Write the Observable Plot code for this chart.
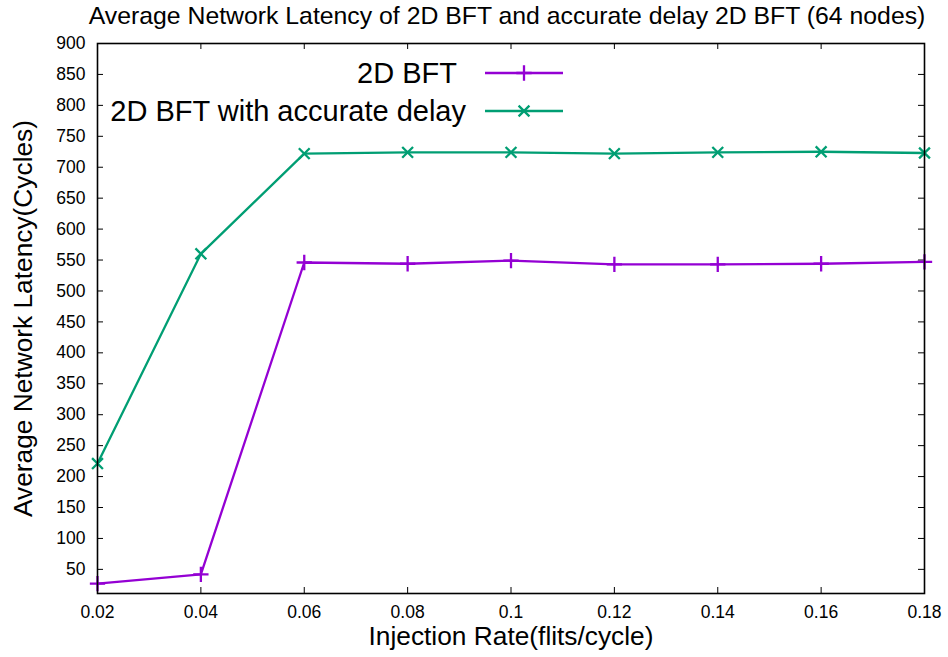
<!DOCTYPE html>
<html>
<head>
<meta charset="utf-8">
<script src="https://cdn.jsdelivr.net/npm/d3@7"></script>
<script src="https://cdn.jsdelivr.net/npm/@observablehq/plot@0.6"></script>
<style>
  html, body { margin: 0; padding: 0; background: white; }
  #chart { width: 948px; height: 657px; }
</style>
</head>
<body>
<div id="chart"></div>
<script>
const injectionRates = [0.02, 0.04, 0.06, 0.08, 0.10, 0.12, 0.14, 0.16, 0.18];
const bftLatency = [27, 42, 546, 544, 549, 543, 543, 544, 547];
const accurateLatency = [221, 560, 722, 724, 724, 722, 724, 725, 723];
const seriesNames = ["2D BFT", "2D BFT with accurate delay"];
const seriesColors = ["#9400d3", "#009e73"];
const seriesSymbols = ["plus", "times"];
const xTicks = [0.02, 0.04, 0.06, 0.08, 0.10, 0.12, 0.14, 0.16, 0.18];
const xTickLabels = ["0.02", "0.04", "0.06", "0.08", "0.1", "0.12", "0.14", "0.16", "0.18"];
const yTicks = [50, 100, 150, 200, 250, 300, 350, 400, 450, 500, 550, 600, 650, 700, 750, 800, 850, 900];
const titleText = "Average Network Latency of 2D BFT and accurate delay 2D BFT (64 nodes)";
const xLabel = "Injection Rate(flits/cycle)";
const yLabel = "Average Network Latency(Cycles)";

const data = [];
injectionRates.forEach((x, i) => {
  data.push({x, y: bftLatency[i], s: seriesNames[0]});
});
injectionRates.forEach((x, i) => {
  data.push({x, y: accurateLatency[i], s: seriesNames[1]});
});

const W = 948, H = 657, mL = 97, mR = 24, mT = 43, mB = 64;
const fw = W - mL - mR, fh = H - mT - mB;
const font = "'Liberation Sans', Arial, Helvetica, sans-serif";

const chart = Plot.plot({
  width: W, height: H,
  marginLeft: mL, marginRight: mR, marginTop: mT, marginBottom: mB,
  style: {fontFamily: font, background: "white", color: "black", overflow: "visible"},
  x: {domain: [0.02, 0.18]},
  y: {domain: [11, 900]},
  color: {domain: seriesNames, range: seriesColors},
  symbol: {domain: seriesNames, range: seriesSymbols},
  marks: [
    Plot.axisX({ticks: xTicks, tickFormat: (d) => xTickLabels[xTicks.indexOf(d)], tickSize: 0, tickPadding: 12, fontSize: 17.5, label: null}),
    Plot.axisY({ticks: yTicks, tickSize: 0, tickPadding: 12, fontSize: 17.5, label: null}),
    Plot.tickX(xTicks, {x: (d) => d, insetTop: fh - 6, stroke: "black", strokeWidth: 1}),
    Plot.tickX(xTicks, {x: (d) => d, insetBottom: fh - 6, stroke: "black", strokeWidth: 1}),
    Plot.tickY(yTicks, {y: (d) => d, insetRight: fw - 6, stroke: "black", strokeWidth: 1}),
    Plot.tickY(yTicks, {y: (d) => d, insetLeft: fw - 6, stroke: "black", strokeWidth: 1}),
    Plot.line(data, {x: "x", y: "y", z: "s", stroke: "s", strokeWidth: 2.3}),
    Plot.dot(data, {x: "x", y: "y", stroke: "s", symbol: "s", r: 5, strokeWidth: 2.3}),
    Plot.frame({stroke: "black", strokeWidth: 1.6}),
    Plot.text([titleText], {frameAnchor: "top", dx: -4, dy: -27, fontSize: 24.8, lineAnchor: "middle", fill: "black"}),
    Plot.text([xLabel], {frameAnchor: "bottom", dy: 43, fontSize: 26.3, lineAnchor: "middle", fill: "black"}),
    Plot.text([yLabel], {frameAnchor: "left", dx: -74, rotate: -90, fontSize: 26.3, textAnchor: "middle", lineAnchor: "middle", fill: "black"})
  ]
});

// Legend (inside the plot, top-left region, gnuplot style)
const svg = d3.select(chart);
const legendRows = [73, 111];
const legendTextEnds = [457, 466];
seriesNames.forEach((name, i) => {
  const g = svg.append("g");
  g.append("text")
    .attr("x", legendTextEnds[i]).attr("y", legendRows[i]).attr("dy", "0.36em")
    .attr("text-anchor", "end")
    .attr("font-family", font).attr("font-size", 29).attr("fill", "black")
    .text(name);
  g.append("line")
    .attr("x1", 485).attr("x2", 563)
    .attr("y1", legendRows[i]).attr("y2", legendRows[i])
    .attr("stroke", seriesColors[i]).attr("stroke-width", 2.3);
  g.append("path")
    .attr("transform", `translate(524,${legendRows[i]})`)
    .attr("d", d3.symbol(i === 0 ? d3.symbolPlus : d3.symbolTimes, Math.PI * 25)())
    .attr("fill", "none").attr("stroke", seriesColors[i]).attr("stroke-width", 2.3);
});

document.getElementById("chart").appendChild(chart);
</script>
</body>
</html>
